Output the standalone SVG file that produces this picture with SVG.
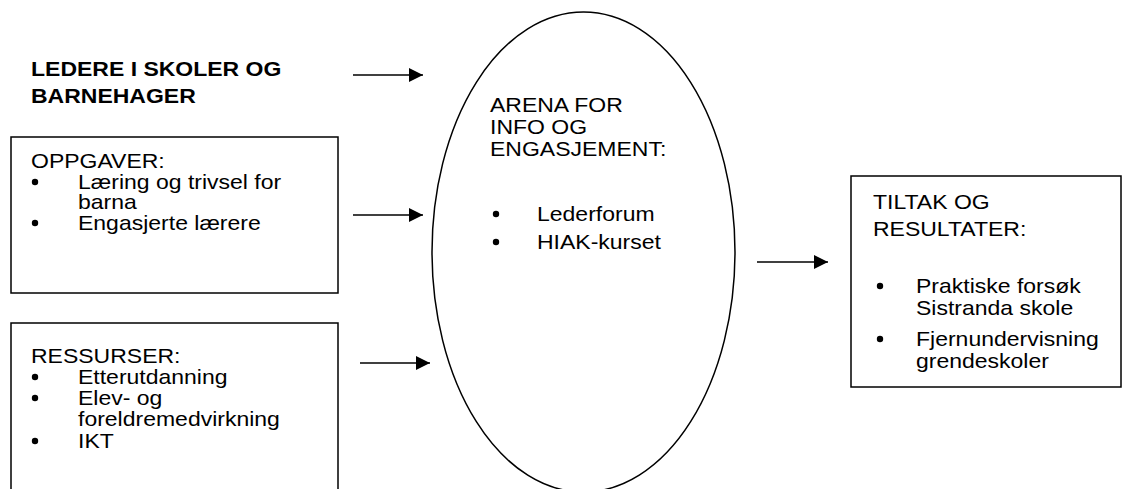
<svg xmlns="http://www.w3.org/2000/svg" width="1122" height="489" viewBox="0 0 1122 489">
<defs>
<style>
text{font-family:"Liberation Sans",Arial,sans-serif;font-size:21px;fill:#000}
.b{font-weight:bold}
.box{fill:#fff;stroke:#000;stroke-width:1.5}
.ln{stroke:#000;stroke-width:1.5;fill:none}
.dot{fill:#000}
</style>
<marker id="ah" viewBox="0 0 10 10" refX="10" refY="5" markerWidth="15" markerHeight="14" markerUnits="userSpaceOnUse" orient="auto">
<path d="M0,0 L10,5 L0,10 Z" fill="#000"/>
</marker>
</defs>
<rect width="1122" height="489" fill="#fff"/>
<g id="ledere">
<text class="b" transform="translate(31 0) scale(1.095 1)" y="76">LEDERE I SKOLER OG</text>
<text class="b" transform="translate(31 0) scale(1.095 1)" y="103">BARNEHAGER</text>
</g>
<g id="oppgaver">
<rect class="box" x="11" y="137" width="327" height="156"/>
<text transform="translate(31 0) scale(1.095 1)" y="168">OPPGAVER:</text>
<circle class="dot" cx="35" cy="182" r="3.2"/>
<text transform="translate(78 0) scale(1.095 1)" y="189">Læring og trivsel for</text>
<text transform="translate(78 0) scale(1.095 1)" y="209">barna</text>
<circle class="dot" cx="35" cy="223" r="3.2"/>
<text transform="translate(78 0) scale(1.095 1)" y="230">Engasjerte lærere</text>
</g>
<g id="ressurser">
<path class="ln" d="M11,490 V323 H338 V490"/>
<text transform="translate(31 0) scale(1.095 1)" y="363">RESSURSER:</text>
<circle class="dot" cx="35" cy="377" r="3.2"/>
<text transform="translate(78 0) scale(1.095 1)" y="384">Etterutdanning</text>
<circle class="dot" cx="35" cy="398" r="3.2"/>
<text transform="translate(78 0) scale(1.095 1)" y="405">Elev- og</text>
<text transform="translate(78 0) scale(1.095 1)" y="426">foreldremedvirkning</text>
<circle class="dot" cx="35" cy="441" r="3.2"/>
<text transform="translate(78 0) scale(1.095 1)" y="448">IKT</text>
</g>
<g id="arena">
<ellipse class="ln" cx="583.5" cy="252" rx="151.5" ry="240"/>
<text transform="translate(490 0) scale(1.095 1)" y="112">ARENA FOR</text>
<text transform="translate(490 0) scale(1.095 1)" y="134">INFO OG</text>
<text transform="translate(490 0) scale(1.095 1)" y="156">ENGASJEMENT:</text>
<circle class="dot" cx="496" cy="214" r="3.2"/>
<text transform="translate(537 0) scale(1.095 1)" y="221">Lederforum</text>
<circle class="dot" cx="496" cy="242" r="3.2"/>
<text transform="translate(537 0) scale(1.095 1)" y="249">HIAK-kurset</text>
</g>
<g id="tiltak">
<rect class="box" x="851" y="176" width="270" height="211"/>
<text transform="translate(873 0) scale(1.095 1)" y="209">TILTAK OG</text>
<text transform="translate(873 0) scale(1.095 1)" y="236">RESULTATER:</text>
<circle class="dot" cx="880" cy="286" r="3.2"/>
<text transform="translate(916 0) scale(1.095 1)" y="293">Praktiske forsøk</text>
<text transform="translate(916 0) scale(1.095 1)" y="315">Sistranda skole</text>
<circle class="dot" cx="880" cy="339" r="3.2"/>
<text transform="translate(916 0) scale(1.095 1)" y="346">Fjernundervisning</text>
<text transform="translate(916 0) scale(1.095 1)" y="368">grendeskoler</text>
</g>
<g id="connectors">
<line class="ln" x1="353" y1="75" x2="423" y2="75" marker-end="url(#ah)"/>
<line class="ln" x1="353" y1="215" x2="423" y2="215" marker-end="url(#ah)"/>
<line class="ln" x1="360" y1="363" x2="430" y2="363" marker-end="url(#ah)"/>
<line class="ln" x1="757" y1="262" x2="828" y2="262" marker-end="url(#ah)"/>
</g>
</svg>
